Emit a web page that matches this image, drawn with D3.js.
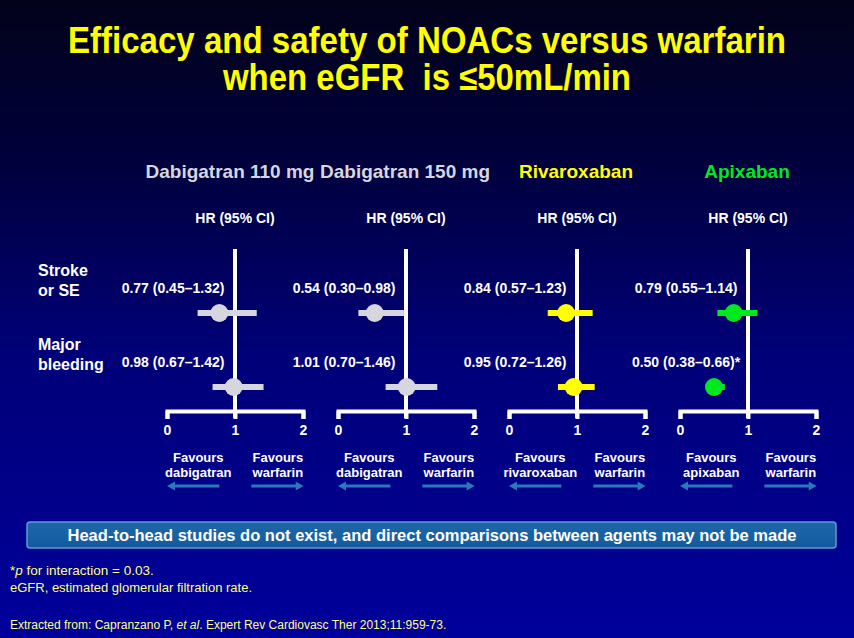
<!DOCTYPE html>
<html>
<head>
<meta charset="utf-8">
<script src="https://cdn.jsdelivr.net/npm/d3@7"></script>
<style>
  html, body { margin: 0; padding: 0; background: #000; }
  svg { display: block; font-family: Arial, "Liberation Sans", sans-serif; }
</style>
</head>
<body>
<svg id="chart" width="854" height="638"></svg>
<script>
// ---------- DATA ----------
const drugs = ["Dabigatran 110 mg", "Dabigatran 150 mg", "Rivaroxaban", "Apixaban"];
const favoursDrug = ["dabigatran", "dabigatran", "rivaroxaban", "apixaban"];
const outcomes = ["Stroke or SE", "Major bleeding"];
const outcomeLines = [["Stroke", "or SE"], ["Major", "bleeding"]];
const strokeHR = [0.77, 0.54, 0.84, 0.79];
const strokeLo = [0.45, 0.30, 0.57, 0.55];
const strokeHi = [1.32, 0.98, 1.23, 1.14];
const bleedHR = [0.98, 1.01, 0.95, 0.50];
const bleedLo = [0.67, 0.70, 0.72, 0.38];
const bleedHi = [1.42, 1.46, 1.26, 0.66];
const bleedNote = ["", "", "", "*"];
const axisTicks = [0, 1, 2];

// ---------- STYLE ----------
const drugColors = ["#d6d6de", "#d6d6de", "#ffff00", "#00e81e"];
const titleColors = ["#d6d6de", "#d6d6de", "#ffff00", "#00e81e"];

const svg = d3.select("#chart");
const W = 854, H = 638;

// background gradient
const defs = svg.append("defs");
const bg = defs.append("linearGradient").attr("id", "bg").attr("x1", 0).attr("y1", 0).attr("x2", 0).attr("y2", 1);
bg.append("stop").attr("offset", "0%").attr("stop-color", "#02021a");
bg.append("stop").attr("offset", "25%").attr("stop-color", "#00003c");
bg.append("stop").attr("offset", "55%").attr("stop-color", "#000078");
bg.append("stop").attr("offset", "100%").attr("stop-color", "#00009c");
svg.append("rect").attr("width", W).attr("height", H).attr("fill", "url(#bg)");

const boxG = defs.append("linearGradient").attr("id", "boxg").attr("x1", 0).attr("y1", 0).attr("x2", 0).attr("y2", 1);
boxG.append("stop").attr("offset", "0%").attr("stop-color", "#1d68aa");
boxG.append("stop").attr("offset", "100%").attr("stop-color", "#135a9c");

// ---------- TITLE ----------
const titleLines = ["Efficacy and safety of NOACs versus warfarin", "when eGFR  is \u226450mL/min"];
const titleWidths = [718, 408];
svg.selectAll("text.title").data(titleLines).join("text")
  .attr("class", "title")
  .attr("x", 427)
  .attr("y", (d, i) => 53 + i * 37)
  .attr("text-anchor", "middle")
  .attr("fill", "#ffff00")
  .attr("font-weight", "bold")
  .attr("font-size", 36)
  .attr("font-family", "'Liberation Sans Narrow', 'Arial Narrow', Arial, sans-serif")
  .attr("textLength", (d, i) => titleWidths[i])
  .attr("lengthAdjust", "spacingAndGlyphs")
  .style("white-space", "pre")
  .text(d => d);

// ---------- LAYOUT SCALES ----------
const panelScale = d3.scalePoint().domain(drugs).range([167, 680]); // x of value 0 per panel
const unit = 68;
const yRow = d3.scalePoint().domain(outcomes).range([313, 387]);
const axisY = 411;
const refTop = 249;

// row labels
outcomes.forEach((o, i) => {
  svg.append("text")
    .attr("x", 38).attr("y", yRow(o) - 43)
    .attr("dominant-baseline", "central")
    .attr("fill", "#ffffff").attr("font-weight", "bold").attr("font-size", 16)
    .selectAll("tspan").data(outcomeLines[i]).join("tspan")
    .attr("x", 38).attr("dy", (d, j) => j === 0 ? 0 : 20)
    .text(d => d);
});

drugs.forEach((drug, p) => {
  const x0 = panelScale(drug);
  const x = d3.scaleLinear().domain([0, 2]).range([x0, x0 + 2 * unit]);
  const g = svg.append("g");
  const col = drugColors[p];

  // drug title
  g.append("text")
    .attr("x", x(1) - (p === 0 ? 5 : 1)).attr("y", 171)
    .attr("text-anchor", "middle").attr("dominant-baseline", "central")
    .attr("fill", titleColors[p]).attr("font-weight", "bold").attr("font-size", 19)
    .text(drug);

  // HR header
  g.append("text")
    .attr("x", x(1)).attr("y", 218)
    .attr("text-anchor", "middle").attr("dominant-baseline", "central")
    .attr("fill", "#ffffff").attr("font-weight", "bold").attr("font-size", 14)
    .text("HR (95% CI)");

  // axis
  const axis = d3.axisBottom(x).tickValues(axisTicks).tickSize(8).tickSizeOuter(8).tickFormat(d3.format("d"));
  const ag = g.append("g").attr("transform", `translate(0,${axisY})`).call(axis);
  ag.select(".domain").attr("stroke", "#ffffff").attr("stroke-width", 4).attr("fill", "none");
  ag.selectAll(".tick line").attr("stroke", "#ffffff").attr("stroke-width", 4);
  ag.selectAll(".tick text").attr("fill", "#ffffff").attr("font-weight", "bold")
    .attr("font-size", 14).attr("font-family", "Arial, 'Liberation Sans', sans-serif")
    .attr("y", 14).attr("dy", "0.71em");

  // reference line at HR = 1
  g.append("line")
    .attr("x1", x(1)).attr("x2", x(1)).attr("y1", refTop).attr("y2", axisY + 7)
    .attr("stroke", "#ffffff").attr("stroke-width", 4);

  // data rows
  const rows = [
    { o: outcomes[0], hr: strokeHR[p], lo: strokeLo[p], hi: strokeHi[p], note: "" },
    { o: outcomes[1], hr: bleedHR[p], lo: bleedLo[p], hi: bleedHi[p], note: bleedNote[p] }
  ];
  rows.forEach(r => {
    const y = yRow(r.o);
    g.append("text")
      .attr("x", x(1) - 62).attr("y", y - 25)
      .attr("text-anchor", "middle").attr("dominant-baseline", "central")
      .attr("fill", "#ffffff").attr("font-weight", "bold").attr("font-size", 14)
      .text(`${r.hr.toFixed(2)} (${r.lo.toFixed(2)}\u2013${r.hi.toFixed(2)})${r.note}`);
    g.append("line")
      .attr("x1", x(r.lo)).attr("x2", x(r.hi)).attr("y1", y).attr("y2", y)
      .attr("stroke", col).attr("stroke-width", 6);
    g.append("circle")
      .attr("cx", x(r.hr)).attr("cy", y).attr("r", 9)
      .attr("fill", col);
  });

  // favours labels
  const fav = [
    { cx: x(0.46), lines: ["Favours", favoursDrug[p]], a1: x(0.77), a2: x(0) },
    { cx: x(1.63), lines: ["Favours", "warfarin"], a1: x(1.24), a2: x(2.01) }
  ];
  fav.forEach(f => {
    g.append("text")
      .attr("x", f.cx).attr("y", 457)
      .attr("text-anchor", "middle").attr("dominant-baseline", "central")
      .attr("fill", "#ffffff").attr("font-weight", "bold").attr("font-size", 13)
      .selectAll("tspan").data(f.lines).join("tspan")
      .attr("x", f.cx).attr("dy", (d, j) => j === 0 ? 0 : 15)
      .text(d => d);
    const dir = Math.sign(f.a2 - f.a1);
    g.append("line")
      .attr("x1", f.a1).attr("x2", f.a2 - dir * 6).attr("y1", 486).attr("y2", 486)
      .attr("stroke", "#2a78b8").attr("stroke-width", 3);
    g.append("path")
      .attr("d", `M${f.a2},486 L${f.a2 - dir * 8},481.5 L${f.a2 - dir * 8},490.5 Z`)
      .attr("fill", "#2a78b8");
  });
});

// ---------- NOTE BOX ----------
svg.append("rect")
  .attr("x", 27).attr("y", 522).attr("width", 809).attr("height", 26)
  .attr("rx", 3)
  .attr("fill", "url(#boxg)").attr("stroke", "#5e9ad6").attr("stroke-width", 1.5);
svg.append("text")
  .attr("x", 432).attr("y", 535)
  .attr("text-anchor", "middle").attr("dominant-baseline", "central")
  .attr("fill", "#ffffff").attr("font-weight", "bold").attr("font-size", 16)
  .attr("textLength", 729).attr("lengthAdjust", "spacingAndGlyphs")
  .text("Head-to-head studies do not exist, and direct comparisons between agents may not be made");

// ---------- FOOTNOTES ----------
const foot = svg.append("g").attr("fill", "#ffff80");
const f1 = foot.append("text").attr("x", 10).attr("y", 570).attr("dominant-baseline", "central")
  .attr("font-size", 13.5);
f1.append("tspan").text("*");
f1.append("tspan").attr("font-style", "italic").text("p");
f1.append("tspan").text(" for interaction = 0.03.");
foot.append("text").attr("x", 10).attr("y", 587).attr("dominant-baseline", "central")
  .attr("font-size", 13)
  .text("eGFR, estimated glomerular filtration rate.");
const f3 = foot.append("text").attr("x", 10).attr("y", 625).attr("dominant-baseline", "central")
  .attr("font-size", 12);
f3.append("tspan").text("Extracted from: Capranzano P, ");
f3.append("tspan").attr("font-style", "italic").text("et al");
f3.append("tspan").text(". Expert Rev Cardiovasc Ther 2013;11:959-73.");
</script>
</body>
</html>
